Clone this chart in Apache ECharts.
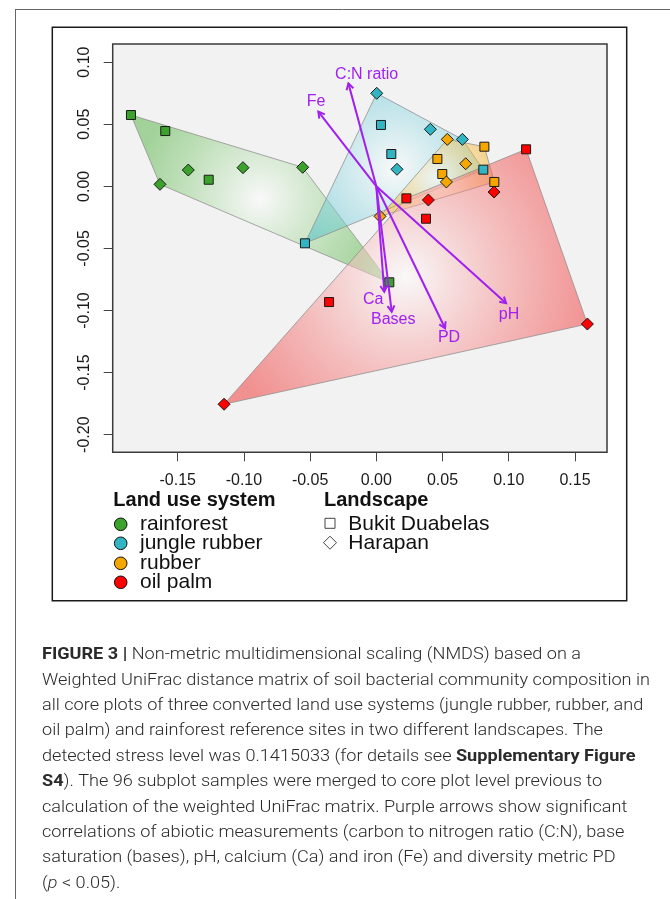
<!DOCTYPE html>
<html><head><meta charset="utf-8">
<script src="https://cdn.jsdelivr.net/npm/echarts@6/dist/echarts.min.js"></script>
<style>html,body{margin:0;padding:0;background:#fff}#c{width:670px;height:899px}</style>
</head><body><div id="c"></div>
<script>
// ---------- data ----------
const landUseSystems = ['rainforest', 'jungle rubber', 'rubber', 'oil palm'];
const landscapes = ['Bukit Duabelas', 'Harapan'];

// NMDS1, NMDS2 per core plot
const rainforestBukit = [[-0.1853, 0.0574], [-0.1594, 0.0445], [-0.1266, 0.0053], [0.0098, -0.0773]];
const rainforestHarapan = [[-0.1634, 0.0016], [-0.1420, 0.0131], [-0.1007, 0.0150], [-0.0556, 0.0153]];
const jungleRubberBukit = [[0.0035, 0.0494], [0.0113, 0.0260], [0.0808, 0.0134], [-0.0539, -0.0459]];
const jungleRubberHarapan = [[0.0003, 0.0749], [0.0408, 0.0459], [0.0650, 0.0378], [0.0156, 0.0137]];
const rubberBukit = [[0.0816, 0.0319], [0.0461, 0.0220], [0.0498, 0.0099], [0.0891, 0.0035]];
const rubberHarapan = [[0.0536, 0.0378], [0.0675, 0.0182], [0.0529, 0.0035], [0.0028, -0.0242]];
const oilPalmBukit = [[0.1131, 0.0298], [0.0227, -0.0097], [0.0375, -0.0261], [-0.0357, -0.0932]];
const oilPalmHarapan = [[0.0393, -0.0110], [0.0889, -0.0046], [-0.1150, -0.1755], [0.1594, -0.1109]];

// environmental fit arrows (from origin)
const envVars = ['C:N ratio', 'Fe', 'Ca', 'Bases', 'PD', 'pH'];
const arrowX = [-0.0211, -0.0438, 0.0060, 0.0116, 0.0519, 0.0980];
const arrowY = [0.0829, 0.0601, -0.0849, -0.1010, -0.1143, -0.0942];
const labelX = [-0.0073, -0.0455, -0.0023, 0.0128, 0.0549, 0.1002];
const labelY = [0.0896, 0.0681, -0.0915, -0.1076, -0.1219, -0.1031];

const xTicks = [-0.15, -0.10, -0.05, 0.00, 0.05, 0.10, 0.15];
const yTicks = [-0.20, -0.15, -0.10, -0.05, 0.00, 0.05, 0.10];
const xRange = [-0.1991, 0.1742];
const yRange = [-0.2142, 0.1146];

const captionLines = [
  '{b|FIGURE 3 |} Non-metric multidimensional scaling (NMDS) based on a',
  'Weighted UniFrac distance matrix of soil bacterial community composition in',
  'all core plots of three converted land use systems (jungle rubber, rubber, and',
  'oil palm) and rainforest reference sites in two different landscapes. The',
  'detected stress level was 0.1415033 (for details see {b|Supplementary Figure}',
  '{b|S4}). The 96 subplot samples were merged to core plot level previous to',
  'calculation of the weighted UniFrac matrix. Purple arrows show significant',
  'correlations of abiotic measurements (carbon to nitrogen ratio (C:N), base',
  'saturation (bases), pH, calcium (Ca) and iron (Fe) and diversity metric PD',
  '({i|p} < 0.05).'
];

// ---------- styling ----------
const groupColors = ['#3ba22b', '#31b5c3', '#f5a700', '#ff0000'];
const hullRGB = ['60,170,40', '40,180,200', '245,165,0', '240,20,20'];
const purple = '#a020f0';
const groups = [
  [rainforestBukit, rainforestHarapan],
  [jungleRubberBukit, jungleRubberHarapan],
  [rubberBukit, rubberHarapan],
  [oilPalmBukit, oilPalmHarapan]
];

function convexHull(pts) {
  const p = pts.slice().sort((a, b) => a[0] - b[0] || a[1] - b[1]);
  const cross = (o, a, b) => (a[0] - o[0]) * (b[1] - o[1]) - (a[1] - o[1]) * (b[0] - o[0]);
  const lower = [];
  for (const q of p) { while (lower.length >= 2 && cross(lower[lower.length - 2], lower[lower.length - 1], q) <= 0) lower.pop(); lower.push(q); }
  const upper = [];
  for (let i = p.length - 1; i >= 0; i--) { const q = p[i]; while (upper.length >= 2 && cross(upper[upper.length - 2], upper[upper.length - 1], q) <= 0) upper.pop(); upper.push(q); }
  upper.pop(); lower.pop();
  return lower.concat(upper);
}
const hulls = groups.map(g => convexHull(g[0].concat(g[1])));
const hullCenters = hulls.map(h => [h.reduce((s, p) => s + p[0], 0) / h.length, h.reduce((s, p) => s + p[1], 0) / h.length]);

const chart = echarts.init(document.getElementById('c'), null, { renderer: 'canvas' });

const series = [];
series.push({
  type: 'custom', name: 'hulls', z: 1, silent: true,
  data: hullCenters,
  renderItem: (params, api) => {
    const i = params.dataIndex;
    const pts = hulls[i].map(p => api.coord(p));
    return {
      type: 'polygon', shape: { points: pts },
      style: {
        fill: new echarts.graphic.RadialGradient(0.5, 0.5, 0.75, [
          { offset: 0, color: 'rgba(255,255,255,0.5)' },
          { offset: 1, color: 'rgba(' + hullRGB[i] + ',0.44)' }
        ]),
        stroke: 'rgba(140,140,140,0.75)', lineWidth: 1
      }
    };
  }
});
groups.forEach((g, gi) => {
  g.forEach((pts, li) => {
    series.push({
      type: 'scatter', name: landUseSystems[gi] + ' ' + landscapes[li], z: 3,
      data: pts,
      symbol: li === 0 ? 'rect' : 'diamond',
      symbolSize: li === 0 ? 9 : 12,
      itemStyle: { color: groupColors[gi], borderColor: '#1a1a1a', borderWidth: 1, opacity: 1 }
    });
  });
});
series.push({
  type: 'custom', name: 'envfit', z: 5, silent: true,
  data: envVars.map((n, i) => [arrowX[i], arrowY[i]]),
  renderItem: (params, api) => {
    const i = params.dataIndex;
    const o = api.coord([0, 0]);
    const t = api.coord([api.value(0), api.value(1)]);
    const ang = Math.atan2(t[1] - o[1], t[0] - o[0]);
    const L = 7, a = Math.PI / 6;
    const p1 = [t[0] - L * Math.cos(ang - a), t[1] - L * Math.sin(ang - a)];
    const p2 = [t[0] - L * Math.cos(ang + a), t[1] - L * Math.sin(ang + a)];
    const lp = api.coord([labelX[i], labelY[i]]);
    return {
      type: 'group', children: [
        { type: 'line', shape: { x1: o[0], y1: o[1], x2: t[0], y2: t[1] }, style: { stroke: purple, lineWidth: 2 } },
        { type: 'polyline', shape: { points: [p1, t, p2] }, style: { stroke: purple, lineWidth: 2, fill: null } },
        { type: 'text', x: lp[0], y: lp[1], style: { text: envVars[i], fill: purple, fontSize: 16, fontFamily: 'Liberation Sans', align: 'center', verticalAlign: 'middle' } }
      ]
    };
  }
});

// caption scaling
const mctx = document.createElement('canvas').getContext('2d');
mctx.font = '300 17px Roboto';
const capScale = 608 / mctx.measureText(captionLines[1]).width;

const capStyle = { fontSize: 17, fontFamily: 'Roboto', fontWeight: 300, fill: '#2a2a2a' };
const graphics = [
  { type: 'line', shape: { x1: 15, y1: 9.5, x2: 670, y2: 9.5 }, style: { stroke: '#666', lineWidth: 1 } },
  { type: 'line', shape: { x1: 15.5, y1: 9, x2: 15.5, y2: 899 }, style: { stroke: '#666', lineWidth: 1 } },
  { type: 'rect', shape: { x: 52.3, y: 27.3, width: 574.4, height: 573.4 }, style: { fill: null, stroke: '#1a1a1a', lineWidth: 1.5 } },
  { type: 'text', x: 113.3, y: 500, style: { text: 'Land use system', fontSize: 20, fontWeight: 'bold', fontFamily: 'Liberation Sans', fill: '#111', verticalAlign: 'middle' } },
  { type: 'text', x: 324, y: 500.7, style: { text: 'Landscape', fontSize: 20, fontWeight: 'bold', fontFamily: 'Liberation Sans', fill: '#111', verticalAlign: 'middle' } }
];
const rowY = [524.3, 543.3, 563.3, 582.3];
landUseSystems.forEach((n, i) => {
  graphics.push({ type: 'circle', shape: { cx: 120.7, cy: rowY[i], r: 6.3 }, style: { fill: groupColors[i], stroke: '#111', lineWidth: 1 } });
  graphics.push({ type: 'text', x: 140, y: rowY[i], style: { text: n, fontSize: 21, fontFamily: 'Liberation Sans', fill: '#111', verticalAlign: 'middle' } });
});
graphics.push({ type: 'rect', shape: { x: 325, y: 518.3, width: 10, height: 10 }, style: { fill: '#fff', stroke: '#444', lineWidth: 1 } });
graphics.push({ type: 'polygon', shape: { points: [[330, 536.2], [336.5, 542.7], [330, 549.2], [323.5, 542.7]] }, style: { fill: '#fff', stroke: '#444', lineWidth: 1 } });
landscapes.forEach((n, i) => {
  graphics.push({ type: 'text', x: 348.3, y: rowY[i], style: { text: n, fontSize: 21, fontFamily: 'Liberation Sans', fill: '#111', verticalAlign: 'middle' } });
});
captionLines.forEach((t, i) => {
  graphics.push({
    type: 'text', x: 42, y: 655 + 25.4 * i, scaleX: capScale,
    style: Object.assign({}, capStyle, {
      text: t, verticalAlign: 'middle',
      rich: {
        b: { fontSize: 17, fontFamily: 'Roboto', fontWeight: 'bold', fill: '#2a2a2a' },
        i: { fontSize: 17, fontFamily: 'Roboto', fontWeight: 300, fontStyle: 'italic', fill: '#2a2a2a' }
      }
    })
  });
});

const axisLabelStyle = { fontSize: 16, fontFamily: 'Liberation Sans', color: '#1a1a1a', margin: 20 };
chart.setOption({
  animation: false,
  backgroundColor: '#fff',
  grid: { left: 112.7, top: 44, width: 494.3, height: 408.3, show: true, backgroundColor: '#f2f2f2', borderColor: '#3a3a3a', borderWidth: 1.5, containLabel: false, outerBoundsMode: 'none' },
  xAxis: {
    type: 'value', min: xRange[0], max: xRange[1], position: 'bottom',
    axisLine: { show: false, onZero: false }, splitLine: { show: false },
    axisTick: { show: true, length: 9, customValues: xTicks, lineStyle: { color: '#444', width: 1 } },
    axisLabel: Object.assign({ customValues: xTicks, formatter: v => v.toFixed(2) }, axisLabelStyle)
  },
  yAxis: {
    type: 'value', min: yRange[0], max: yRange[1], position: 'left',
    axisLine: { show: false, onZero: false }, splitLine: { show: false },
    axisTick: { show: true, length: 9, customValues: yTicks, lineStyle: { color: '#444', width: 1 } },
    axisLabel: Object.assign({ customValues: yTicks, rotate: 90, formatter: v => v.toFixed(2) }, axisLabelStyle)
  },
  series: series,
  graphic: { elements: graphics }
});
</script></body></html>
